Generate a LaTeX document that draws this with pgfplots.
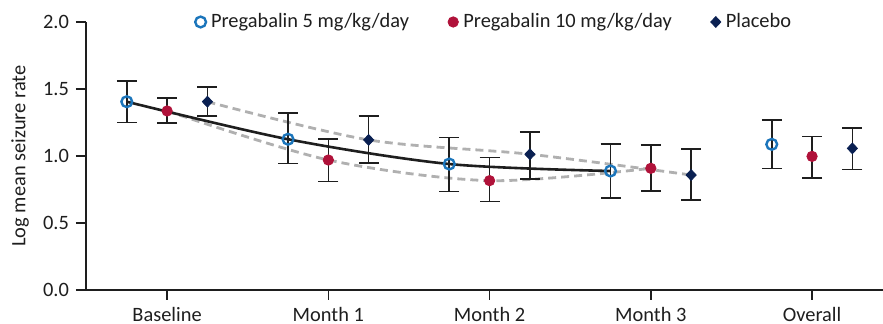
\documentclass[border=0pt]{standalone}
\usepackage{pgfplots}
\pgfplotsset{compat=1.18}
\usepackage{pgfplotstable}
\usepackage{fontspec}
\setmainfont{Carlito}
\definecolor{pfive}{HTML}{1B75BB}
\definecolor{pten}{HTML}{B0123A}
\definecolor{plac}{HTML}{0A2052}
\definecolor{axcol}{HTML}{1E1E1E}
\definecolor{dashgray}{HTML}{B0B0B0}

\pgfplotstableread{
x y ep em
0.75 1.405 0.155 0.156
1.75 1.125 0.195 0.180
2.75 0.940 0.197 0.206
3.75 0.888 0.202 0.201
4.75 1.087 0.182 0.179
}\pfivetab
\pgfplotstableread{
x y ep em
1 1.336 0.097 0.089
2 0.970 0.155 0.160
3 0.816 0.174 0.156
4 0.908 0.172 0.169
5 0.997 0.147 0.161
}\ptentab
\pgfplotstableread{
x y ep em
1.25 1.405 0.110 0.108
2.25 1.120 0.180 0.174
3.25 1.013 0.164 0.185
4.25 0.858 0.192 0.186
5.25 1.057 0.150 0.159
}\plactab

\begin{document}
\begin{tikzpicture}
\begin{axis}[
  scale only axis,
  width=398.5pt, height=134pt,
  xmin=0.497, xmax=5.44,
  ymin=0, ymax=2,
  axis x line*=bottom,
  axis y line*=left,
  axis line style={axcol, line width=1pt},
  xtick={1,2,3,4,5},
  xticklabels={Baseline, Month 1, Month 2, Month 3, Overall},
  ytick={0,0.5,1,1.5,2},
  yticklabel style={/pgf/number format/.cd, fixed, fixed zerofill, precision=1},
  /pgf/number format/assume math mode=true,
  tick align=outside,
  major tick length=5pt,
  tick style={axcol, line width=0.8pt},
  every tick label/.append style={font=\fontsize{10.2pt}{12pt}\selectfont, text=axcol},
  ylabel={Log mean seizure rate},
  ylabel style={at={(axis description cs:-0.0828,0.5)}, anchor=center, font=\fontsize{10.2pt}{12pt}\selectfont, text=axcol},
  legend columns=3,
  legend style={draw=none, fill=none, at={(0.514,1)}, anchor=center,
    font=\fontsize{10.2pt}{12pt}\selectfont, text=axcol,
    nodes={inner xsep=2.5pt},
    /tikz/every even column/.append style={column sep=17pt}},
  legend cell align=left,
  legend image code/.code={\draw[#1] plot coordinates {(0pt,0pt)};},
  error bars/error bar style={line width=0.8pt, axcol},
  error bars/error mark options={rotate=90, mark size=5pt, line width=0.8pt, axcol},
  clip=false,
]
\addlegendimage{only marks, mark=o, mark size=2.7pt, line width=1.2pt, color=pfive}
\addlegendimage{only marks, mark=*, mark size=2.6pt, color=pten}
\addlegendimage{only marks, mark=diamond*, mark size=2.7pt, mark options={xscale=1.25}, color=plac}
\legend{Pregabalin 5 mg/kg/day, Pregabalin 10 mg/kg/day, Placebo}

% trend lines
\addplot[forget plot, dashgray, line width=1.4pt, dash pattern=on 4pt off 2.5pt, smooth, tension=0.5]
  coordinates {(1.25,1.405) (2.25,1.12) (3.25,1.013) (4.25,0.858)};
\addplot[forget plot, dashgray, line width=1.4pt, dash pattern=on 4pt off 2.5pt, smooth, tension=0.5]
  coordinates {(1,1.336) (2,0.97) (3,0.816) (4,0.908)};
\addplot[forget plot, axcol, line width=1.3pt, smooth, tension=0.5]
  coordinates {(0.75,1.405) (1.75,1.125) (2.75,0.94) (3.75,0.888)};

% data with error bars
\addplot[forget plot, only marks, mark=o, mark size=2.7pt, line width=1.2pt, color=pfive,
  error bars/.cd, y dir=both, y explicit]
  table[x=x, y=y, y error plus=ep, y error minus=em] {\pfivetab};
\addplot[forget plot, only marks, mark=*, mark size=2.6pt, color=pten,
  error bars/.cd, y dir=both, y explicit]
  table[x=x, y=y, y error plus=ep, y error minus=em] {\ptentab};
\addplot[forget plot, only marks, mark=diamond*, mark size=2.7pt, mark options={xscale=1.25}, color=plac,
  error bars/.cd, y dir=both, y explicit]
  table[x=x, y=y, y error plus=ep, y error minus=em] {\plactab};

\coordinate (bl) at (rel axis cs:0,0);
\coordinate (tr) at (rel axis cs:1,1);
\end{axis}
\pgfresetboundingbox
\path ([xshift=-43pt,yshift=-17pt]bl) rectangle ([yshift=11pt]tr);
\end{tikzpicture}
\end{document}
